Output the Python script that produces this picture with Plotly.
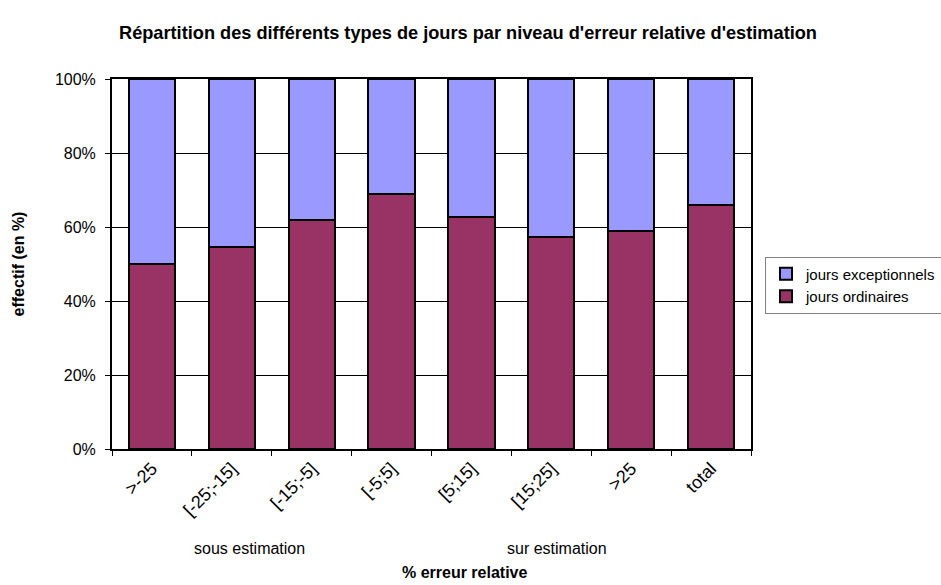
import plotly.graph_objects as go

categories = [">-25", "[-25;-15]", "[-15;-5]", "[-5;5]", "[5;15]", "[15;25]", ">25", "total"]
ordinaires = [49.9, 54.6, 61.9, 68.9, 62.8, 57.4, 59.0, 65.9]
exceptionnels = [round(100 - v, 1) for v in ordinaires]

FONT = "Liberation Sans, Arial, sans-serif"

L, R, T, B = 112, 755, 79, 449
PW, PH = R - L, B - T

fig = go.Figure()
fig.add_trace(go.Bar(
    x=categories, y=ordinaires, name="jours ordinaires",
    marker=dict(color="#993366", line=dict(color="black", width=2)),
    width=0.58,
))
fig.add_trace(go.Bar(
    x=categories, y=exceptionnels, name="jours exceptionnels",
    marker=dict(color="#9999FF", line=dict(color="black", width=2)),
    width=0.58,
))

fig.update_layout(
    barmode="stack",
    width=941, height=585,
    margin=dict(l=L, r=941 - R, t=T, b=585 - B),
    paper_bgcolor="white", plot_bgcolor="white",
    font=dict(family=FONT, color="black", size=16),
    title=dict(
        text="<b>Répartition des différents types de jours par niveau d'erreur relative d'estimation</b>",
        x=468 / 941, xanchor="center", y=1 - 33 / 585, yanchor="middle",
        font=dict(size=18.2, family=FONT),
    ),
    legend=dict(
        xref="container", yref="container",
        x=765 / 941, xanchor="left",
        y=1 - 285 / 585, yanchor="middle",
        traceorder="reversed",
        bordercolor="#808080", borderwidth=1,
        font=dict(size=15, family=FONT),
        itemwidth=30,
        tracegroupgap=0,
    ),
    showlegend=True,
)

fig.update_xaxes(
    type="category",
    tickangle=-45,
    tickson="boundaries",
    ticks="outside", ticklen=5, tickcolor="black",
    showline=True, linecolor="black", linewidth=2, mirror=True,
    showgrid=False,
    tickfont=dict(size=18, family=FONT),
)
fig.update_yaxes(
    range=[0, 100],
    tickvals=[0, 20, 40, 60, 80, 100],
    ticktext=["0%", "20%", "40%", "60%", "80%", "100%"],
    ticks="outside", ticklen=5, tickcolor="black",
    ticklabelstandoff=6,
    showline=True, linecolor="black", linewidth=2, mirror=True,
    showgrid=True, gridcolor="black", gridwidth=1,
    tickfont=dict(size=16, family=FONT),
    title=dict(text="<b>effectif (en %)</b>", font=dict(size=16, family=FONT), standoff=26),
)

fig.add_annotation(text="sous estimation", xref="paper", yref="paper",
                   x=(250 - L) / PW, y=(B - 548) / PH, showarrow=False,
                   font=dict(size=16, family=FONT), xanchor="center", yanchor="middle")
fig.add_annotation(text="sur estimation", xref="paper", yref="paper",
                   x=(560 - L) / PW, y=(B - 548) / PH, showarrow=False,
                   font=dict(size=16, family=FONT), xanchor="center", yanchor="middle")
fig.add_annotation(text="<b>% erreur relative</b>", xref="paper", yref="paper",
                   x=(467 - L) / PW, y=(B - 572) / PH, showarrow=False,
                   font=dict(size=16, family=FONT), xanchor="center", yanchor="middle")

fig.write_html("out.html")
